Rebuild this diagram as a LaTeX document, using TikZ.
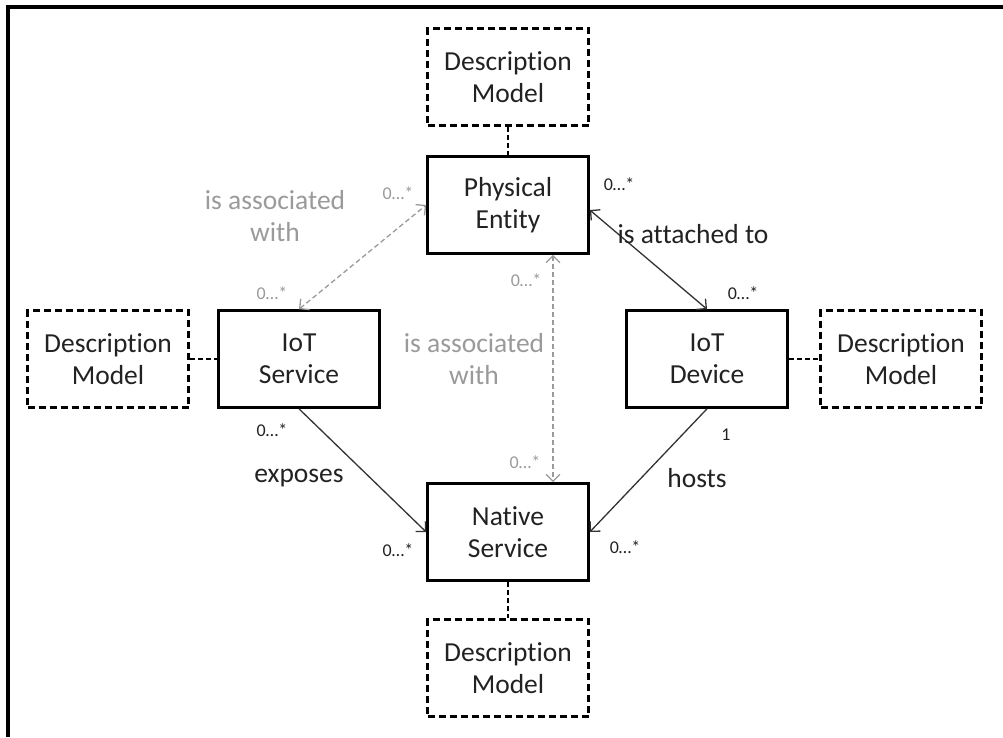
\documentclass[tikz,border=0pt]{standalone}
\usepackage{fontspec}
\setmainfont{Carlito}[Ligatures={NoCommon}]
\usetikzlibrary{arrows.meta}
\definecolor{lgray}{HTML}{9A9A9A}
\definecolor{dgray}{HTML}{222222}
\definecolor{lnk}{HTML}{333333}
\begin{document}
\begin{tikzpicture}[x=1pt,y=-1pt,
  box/.style={draw=black, line width=2.6pt, minimum width=161pt, minimum height=97pt,
    inner sep=0pt, align=center, font=\fontsize{27.5}{32}\selectfont, text=dgray},
  dmbox/.style={box, dash pattern=on 7pt off 4pt},
  lbl/.style={align=center, font=\fontsize{27.5}{32}\selectfont, inner sep=0pt},
  mult/.style={font=\fontsize{18}{20}\selectfont, inner sep=0pt},
  tip/.tip={Straight Barb[length=7pt,width=14pt,line width=1.3pt]},
  link/.style={draw=lnk, line width=1.3pt},
  assoc/.style={draw=lgray, line width=1.3pt, dash pattern=on 5pt off 3pt},
  dmlink/.style={draw=black, line width=1.3pt, dash pattern=on 5pt off 3pt}
]
\useasboundingbox (0,0) rectangle (1003,737);
\draw[line width=4.5pt, line join=miter] (8,737) -- (8,7) -- (1003,7);

% main boxes
\node[box] (pe)  at (508,205) {Physical\\Entity};
\node[box] (svc) at (299,359) {IoT\\Service};
\node[box] (dev) at (707,359) {IoT\\Device};
\node[box] (ns)  at (508,532) {Native\\Service};

% description models
\node[dmbox] (dmT) at (508,77)  {Description\\Model};
\node[dmbox] (dmL) at (108,359) {Description\\Model};
\node[dmbox] (dmR) at (901,359) {Description\\Model};
\node[dmbox] (dmB) at (508,668) {Description\\Model};

% description links
\draw[dmlink] (dmT) -- (pe);
\draw[dmlink] (dmL) -- (svc);
\draw[dmlink] (dev) -- (dmR);
\draw[dmlink] (ns) -- (dmB);

% associations
\draw[assoc, {tip}-{tip}] (svc.north) -- (pe.west);
\draw[assoc, {tip}-{tip}] ([xshift=45pt]pe.south) -- ([xshift=45pt]ns.north);
\draw[link, {tip}-{tip}] ([yshift=-5pt]pe.east) -- (dev.north);
\draw[link, -{tip}] (svc.south) -- (ns.west);
\draw[link, -{tip}] (dev.south) -- (ns.east);

% labels
\node[lbl, text=lgray] (la1) at (275,216) {is associated\\with};
\node[lbl, text=lgray] (la2) at (474,359) {is associated\\with};
\node[lbl, text=dgray] (latt) at (693,234) {is attached to};
\node[lbl, text=dgray] (lexp) at (299,478) {exposes};
\node[lbl, text=dgray] (lhost) at (697,478) {hosts};

% multiplicities
\node[mult, text=lgray] (m1) at (398,193) {0…*};
\node[mult, text=lgray] (m2) at (272,293) {0…*};
\node[mult, text=lgray] (m3) at (526,280) {0…*};
\node[mult, text=lgray] (m4) at (525,462) {0…*};
\node[mult, text=dgray] (m5) at (619,184) {0…*};
\node[mult, text=dgray] (m6) at (743,293) {0…*};
\node[mult, text=dgray] (m7) at (726,435) {1};
\node[mult, text=dgray] (m8) at (272,430) {0…*};
\node[mult, text=dgray] (m9) at (398,550) {0…*};
\node[mult, text=dgray] (m10) at (625,547) {0…*};
\end{tikzpicture}
\end{document}
